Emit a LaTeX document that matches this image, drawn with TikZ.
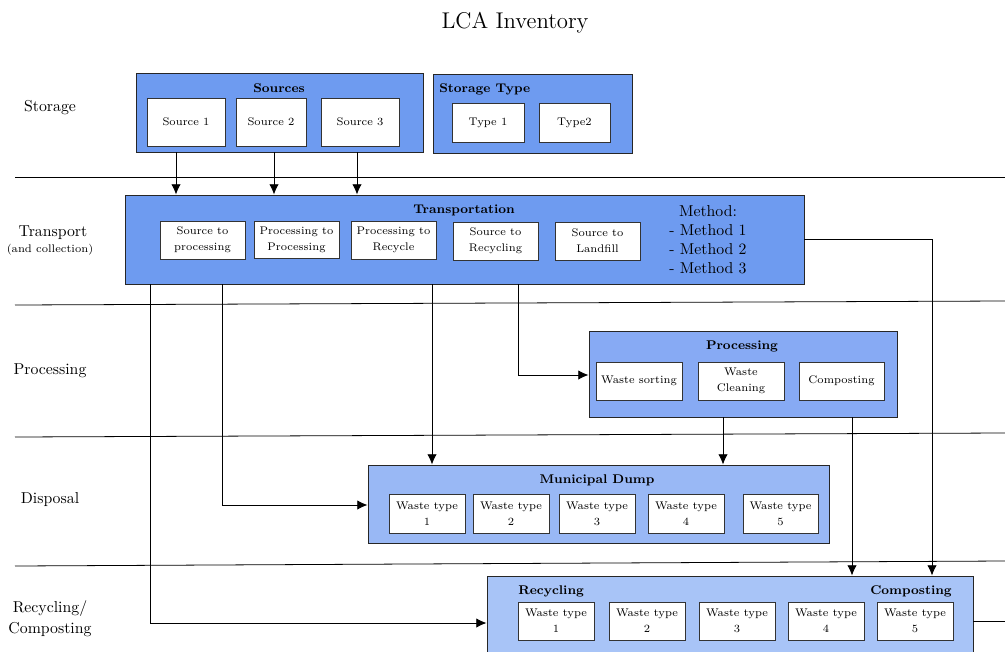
\documentclass[tikz,border=0pt]{standalone}
\usetikzlibrary{arrows.meta,fit}
\definecolor{tierA}{RGB}{110,155,240}
\definecolor{tierB}{RGB}{135,170,244}
\definecolor{tierC}{RGB}{153,184,245}
\definecolor{tierD}{RGB}{168,196,247}
\begin{document}
\begin{tikzpicture}[x=0.633pt,y=-0.633pt,
  group/.style={draw=black!85, line width=0.6pt, inner sep=0pt},
  item/.style={draw=black!80, fill=white, line width=0.6pt, inner sep=0pt,
    align=center, font={\fontsize{7}{10}\selectfont}},
  size/.style 2 args={minimum width={#1*0.633pt}, minimum height={#2*0.633pt}},
  head/.style={font=\footnotesize\bfseries, inner sep=0pt},
  lane/.style={align=center, inner sep=0pt},
  arr/.style={-{Latex[length=6.5pt,width=6pt]}, line width=0.6pt},
  sep/.style={line width=0.5pt}]
\useasboundingbox (0,0) rectangle (1005,651);
\clip (0,0) rectangle (1005,651);

% title
\node[font=\Large, inner sep=0pt] (title) at (515,23) {LCA Inventory};

% lane separators
\coordinate (s1a) at (15,177);  \coordinate (s1b) at (1005,177);
\coordinate (s2a) at (15,305);  \coordinate (s2b) at (1005,301);
\coordinate (s3a) at (15,437);  \coordinate (s3b) at (1005,433);
\coordinate (s4a) at (15,566);  \coordinate (s4b) at (1005,561);
\draw[sep] (s1a) -- (s1b);
\draw[sep] (s2a) -- (s2b);
\draw[sep] (s3a) -- (s3b);
\draw[sep] (s4a) -- (s4b);

% lane labels
\node[lane] (lstorage) at (50,108) {Storage};
\node[lane] (ltransport) at (53,233) {Transport};
\node[lane, font=\scriptsize] (lcollect) at (50,250) {(and collection)};
\node[lane] (lprocessing) at (50,371) {Processing};
\node[lane] (ldisposal) at (50,500) {Disposal};
\node[lane] (lrecycle) at (50,609) {Recycling/};
\node[lane] (lcompost) at (50,630) {Composting};

% storage
\node[group, fill=tierA, fit={(136,73) (423,152)}] (srcgrp) {};
\node[head] (srchead) at (279,88) {Sources};
\node[item, size={78}{48}] (src1) at (186,122) {Source 1};
\node[item, size={70}{48}] (src2) at (271,122) {Source 2};
\node[item, size={78}{48}] (src3) at (360,122) {Source 3};

\node[group, fill=tierA, fit={(433,74) (632,153)}] (stgrp) {};
\node[head, anchor=west] (sthead) at (439,89) {Storage Type};
\node[item, size={72}{39}] (type1) at (488,122.5) {Type 1};
\node[item, size={71}{39}] (type2) at (574.5,122.5) {Type2};

% transport
\node[group, fill=tierA, fit={(125,195) (804,284)}] (trans) {};
\node[head] (transhead) at (464,210) {Transportation};
\node[item, size={85}{38}] (t1) at (202.5,240) {Source to\\processing};
\node[item, size={85}{37}] (t2) at (296.5,239.5) {Processing to\\Processing};
\node[item, size={85}{38}] (t3) at (393.5,240) {Processing to\\Recycle};
\node[item, size={85}{38}] (t4) at (495.5,241) {Source to\\Recycling};
\node[item, size={85}{38}] (t5) at (597.5,241) {Source to\\Landfill};
\node[align=center, inner sep=0pt] (methods) at (708,240)
  {Method:\\- Method 1\\- Method 2\\- Method 3};

% processing
\node[group, fill=tierB, fit={(589,331) (897,417)}] (proc) {};
\node[head] (prochead) at (742,346) {Processing};
\node[item, size={86}{38}] (p1) at (639,381) {Waste sorting};
\node[item, size={86}{38}] (p2) at (741,381) {Waste\\Cleaning};
\node[item, size={85}{38}] (p3) at (841.5,381) {Composting};

% disposal
\node[group, fill=tierC, fit={(368,465) (829,543)}] (dump) {};
\node[head] (dumphead) at (597,480) {Municipal Dump};
\node[item, size={76}{39}] (d1) at (427,513.5) {Waste type\\1};
\node[item, size={76}{39}] (d2) at (511,513.5) {Waste type\\2};
\node[item, size={76}{39}] (d3) at (597,513.5) {Waste type\\3};
\node[item, size={76}{39}] (d4) at (686,513.5) {Waste type\\4};
\node[item, size={75}{39}] (d5) at (780.5,513.5) {Waste type\\5};

% recycling / composting
\node[group, fill=tierD, fit={(487,576) (973,690)}] (recyc) {};
\node[head, anchor=west] (rechead) at (518,591) {Recycling};
\node[head, anchor=east] (comphead) at (952,591) {Composting};
\node[item, size={76}{38}] (r1) at (556,621) {Waste type\\1};
\node[item, size={76}{38}] (r2) at (647,621) {Waste type\\2};
\node[item, size={76}{38}] (r3) at (737,621) {Waste type\\3};
\node[item, size={76}{38}] (r4) at (826,621) {Waste type\\4};
\node[item, size={76}{38}] (r5) at (915,621) {Waste type\\5};
\coordinate (outflow) at (1005,621);

% flows
\draw[arr] (176,0 |- srcgrp.south) -- (176,0 |- trans.north);
\draw[arr] (274,0 |- srcgrp.south) -- (274,0 |- trans.north);
\draw[arr] (357,0 |- srcgrp.south) -- (357,0 |- trans.north);
\draw[arr] (trans.east |- 0,239) -- (932,239) -- (932,0 |- recyc.north);
\draw[arr] (518,0 |- trans.south) -- (518,375) -- (proc.west |- 0,375);
\draw[arr] (432,0 |- trans.south) -- (432,0 |- dump.north);
\draw[arr] (723,0 |- proc.south) -- (723,0 |- dump.north);
\draw[arr] (222,0 |- trans.south) -- (222,505) -- (dump.west |- 0,505);
\draw[arr] (150,0 |- trans.south) -- (150,623) -- (recyc.west |- 0,623);
\draw[arr] (852,0 |- proc.south) -- (852,0 |- recyc.north);
\draw[line width=0.6pt] (recyc.east |- outflow) -- (outflow);
\end{tikzpicture}
\end{document}
